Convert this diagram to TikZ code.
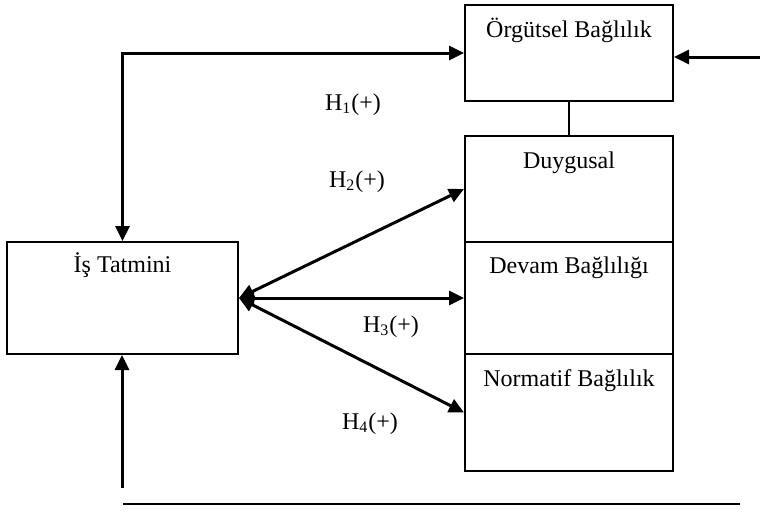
\documentclass[tikz,border=0pt]{standalone}
\usepackage{fontspec}
\setmainfont{Liberation Serif}
\usetikzlibrary{arrows.meta}
\begin{document}
\begin{tikzpicture}[x=0.5pt,y=-0.5pt,
  box/.style={draw,line width=1pt,rectangle,minimum width=104pt,inner sep=0pt},
  boxtext/.style={anchor=base,inner sep=0pt,font=\fontsize{12}{14}\selectfont},
  lab/.style={anchor=base,inner sep=0pt,font=\fontsize{12}{14}\selectfont},
  thick arrow/.style={line width=1.5pt,-{Triangle[length=7.5pt,width=7pt]}},
  both arrow/.style={line width=1.5pt,{Triangle[length=7.5pt,width=7pt]}-{Triangle[length=7.5pt,width=7pt]}},
  thin/.style={line width=0.7pt}]
\useasboundingbox (0,0) rectangle (779,515);
\node[box,minimum height=48pt] (org) at (569,53) {};
\node[box,minimum height=53pt] (duy) at (569,189) {};
\node[box,minimum height=56pt] (dev) at (569,298) {};
\node[box,minimum height=58.5pt] (nor) at (569,412.5) {};
\node[box,minimum width=115.5pt,minimum height=56pt] (is) at (122.5,298) {};
\node[boxtext] (orgt) at ([yshift=-16.5pt]org.north) {Örgütsel Bağlılık};
\node[boxtext] (duyt) at ([yshift=-16.5pt]duy.north) {Duygusal};
\node[boxtext] (devt) at ([yshift=-16pt]dev.north) {Devam Bağlılığı};
\node[boxtext] (nort) at ([yshift=-16.5pt]nor.north) {Normatif Bağlılık};
\node[boxtext] (ist) at ([yshift=-15.5pt]is.north) {İş Tatmini};
\node[lab] (h1) at (353,110) {H\textsubscript{1}(+)};
\node[lab] (h2) at (357,187) {H\textsubscript{2}(+)};
\node[lab] (h3) at (391,332) {H\textsubscript{3}(+)};
\node[lab] (h4) at (370,429) {H\textsubscript{4}(+)};
\coordinate (rin) at (760,57);
\coordinate (bin) at (122,488);
\coordinate (la) at (123,504);
\coordinate (lb) at (740,504);
\draw[both arrow] (is.north) -- (is.north |- org.west) -- (org.west);
\draw[thick arrow] (rin) -- (rin -| org.east);
\draw[thick arrow] (bin) -- (bin |- is.south);
\draw[thin] (org.south) -- (duy.north);
\draw[thin] (la) -- (lb);
\draw[both arrow] (is.east) -- (duy.west);
\draw[both arrow] (is.east) -- (dev.west);
\draw[both arrow] (is.east) -- (nor.west);
\end{tikzpicture}
\end{document}
